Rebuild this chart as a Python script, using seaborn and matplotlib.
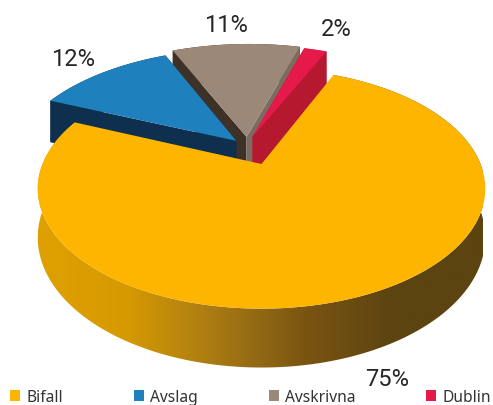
import numpy as np
import matplotlib
matplotlib.use("Agg")
import matplotlib.pyplot as plt
from matplotlib.colors import LinearSegmentedColormap
from matplotlib.patches import Patch, Polygon
import seaborn as sns

# Decision outcomes, share of cases in percent
categories = ["Bifall", "Avslag", "Avskrivna", "Dublin"]
shares = [75, 12, 11, 2]
share_labels = ["75%", "12%", "11%", "2%"]

top_colors = ["#FDB500", "#1F80BE", "#9B8878", "#E5194A"]
leading_wall_colors = ["#8A6400", "#0F2F4E", "#3D3128", "#B5182F"]
trailing_wall_colors = ["#8A6400", "#0F2F4E", "#7A6C60", "#B5182F"]
rim_colors = ["#8A6400", "#0F2F4E", "#3D3128", "#B5182F"]
side_gradient = ["#DFA000", "#D69A02", "#A87A14", "#7A5512", "#5C4410", "#5C4410"]

# Pie geometry on the unit disc and its perspective projection to the canvas
START_ANGLE = 67.0
SLICE_RADIUS = [1.0, 1.05, 1.08, 1.06]
SLICE_SHIFT = [(0.0, 0.0), (-0.12, 0.21), (-0.072, 0.248), (-0.043, 0.248)]
CENTER_X, CENTER_Y = 261.5, 165.0
SCALE_X, SCALE_Y = 219.0, 115.0
PERSPECTIVE = 0.205
DEPTH = 46.8


def project(u, v, lowered=False):
    """Map disc coordinates to canvas pixels, optionally on the bottom face."""
    w = 1 + PERSPECTIVE * np.asarray(v, dtype=float)
    x = CENTER_X + SCALE_X * np.asarray(u) / w
    y = CENTER_Y - SCALE_Y * np.asarray(v) / w
    if lowered:
        y = y + DEPTH / w
    return x, y


def slice_angles(values):
    sweep = np.cumsum(values) / np.sum(values) * 360.0
    ends = START_ANGLE - sweep
    begins = np.concatenate([[START_ANGLE], ends[:-1]])
    return begins, ends


def wedge_outline(begin, end, radius, shift):
    t = np.radians(np.linspace(begin, end, 240))
    u = np.concatenate([[0.0], radius * np.cos(t)]) + shift[0]
    v = np.concatenate([[0.0], radius * np.sin(t)]) + shift[1]
    return u, v


def wall(u, v):
    """Polygon joining a top-face path to the same path on the bottom face."""
    xt, yt = project(u, v)
    xb, yb = project(u, v, lowered=True)
    return np.concatenate([xt, xb[::-1]]), np.concatenate([yt, yb[::-1]])


sns.set_theme(style="white")
plt.rcParams["font.family"] = ["Roboto", "DejaVu Sans"]

fig = plt.figure(figsize=(4.93, 4.06), dpi=100)
ax = fig.add_axes([0, 0, 1, 1])
ax.set_axis_off()

palette = sns.color_palette(top_colors)
begins, ends = slice_angles(shares)

# Back slices first, so nearer slices hide part of the walls behind them
draw_order = [2, 1, 3, 0]

for rank, i in enumerate(draw_order):
    u, v = wedge_outline(begins[i], ends[i], SLICE_RADIUS[i], SLICE_SHIFT[i])
    zo = 1 + rank * 0.1
    if i == 0:
        # The large slice has a shaded rim running from gold to dark brown
        wx, wy = wall(u[1:], v[1:])
        rim = Polygon(np.column_stack([wx, wy]), closed=True,
                      transform=ax.transData, facecolor="none", edgecolor="none")
        ax.add_patch(rim)
        cmap = LinearSegmentedColormap.from_list("rim", side_gradient)
        shade = ax.imshow(np.linspace(0, 1, 256)[None, :], cmap=cmap,
                          extent=(37, 483, 400, 60), aspect="auto", zorder=zo)
        shade.set_clip_path(rim)
    else:
        xw, yw = wall(u[1:], v[1:])
        ax.fill(xw, yw, color=rim_colors[i], lw=0, zorder=zo)
        xw, yw = wall(u[:2], v[:2])
        ax.fill(xw, yw, color=leading_wall_colors[i], lw=0, zorder=zo)
        xw, yw = wall(u[[0, -1]], v[[0, -1]])
        ax.fill(xw, yw, color=trailing_wall_colors[i], lw=0, zorder=zo)
    xt, yt = project(u, v)
    ax.fill(xt, yt, color=palette[i], lw=0, zorder=zo + 0.01)

ax.set_xlim(0, 493)
ax.set_ylim(406, 0)

label_spots = [(387, 380), (73, 60), (226, 25), (336, 30)]
for text, (lx, ly) in zip(share_labels, label_spots):
    ax.text(lx, ly, text, ha="center", va="center", fontsize=17,
            color="#262626", zorder=5)

handles = [Patch(facecolor=c, edgecolor="none") for c in palette]
ax.legend(handles, categories, ncol=4, frameon=False, loc="lower left",
          bbox_to_anchor=(10 / 493, 0), borderaxespad=0, borderpad=0,
          handlelength=0.65, handleheight=0.65,
          handletextpad=0.4, columnspacing=4.55,
          labelcolor="#333333", prop={"family": "Noto Sans", "size": 11.2})

fig.savefig("out.png", dpi=100, facecolor="white")
